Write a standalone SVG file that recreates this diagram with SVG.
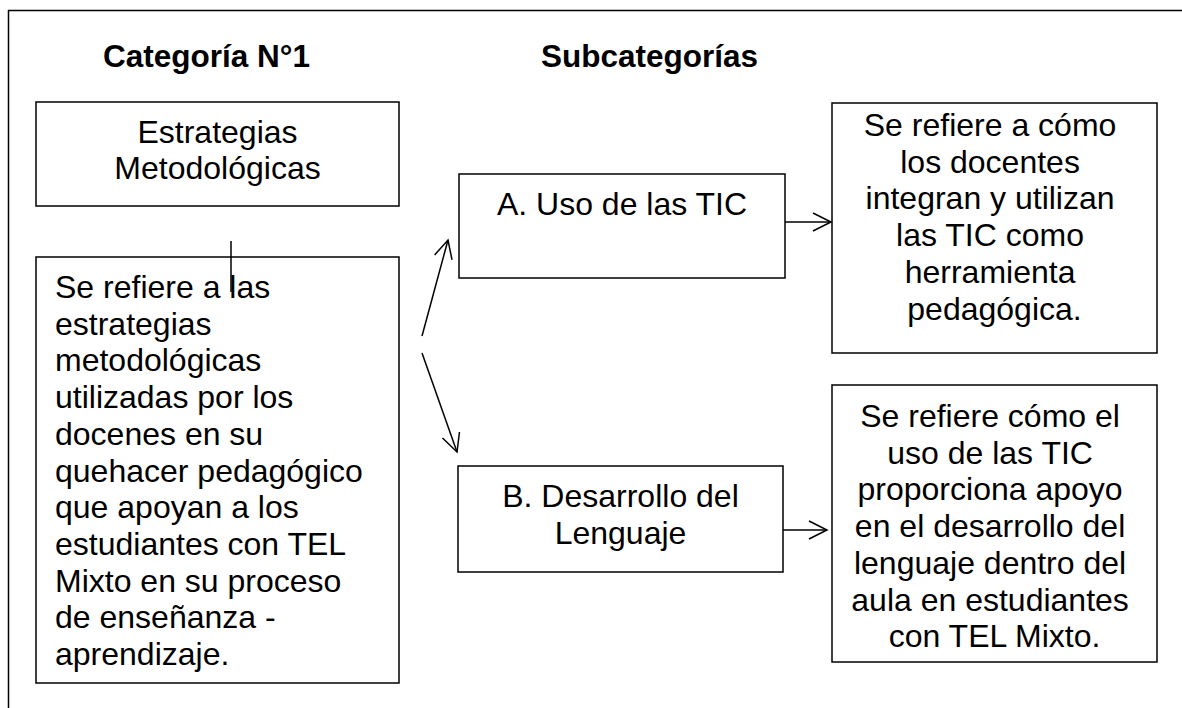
<svg xmlns="http://www.w3.org/2000/svg" width="1182" height="708" viewBox="0 0 1182 708">
<defs>
<style>
.box{fill:#fff;stroke:#000;stroke-width:1.5}
.t{font-family:"Liberation Sans",Arial,sans-serif;font-size:32px;fill:#000}
.c{text-anchor:middle}
.b{font-weight:bold;font-size:31.5px}
.ln{fill:none;stroke:#000;stroke-width:1.5}
</style>
<marker id="ah" markerUnits="userSpaceOnUse" markerWidth="22" markerHeight="22" refX="18" refY="9" orient="auto" viewBox="-2 -2 22 22">
<path d="M0,0 L18,9 L0,18" fill="none" stroke="#000" stroke-width="1.5"/>
</marker>
</defs>
<rect width="1182" height="708" fill="#fff"/>
<path class="ln" d="M8.5,708 V10.5 H1182"/>
<text class="t b" x="103" y="67">Categoría N°1</text>
<text class="t b" x="541" y="67">Subcategorías</text>
<g id="estrategias">
<rect class="box" x="36" y="102" width="363" height="104"/>
<text class="t c" x="217.5" y="143">Estrategias</text>
<text class="t c" x="217.5" y="179">Metodológicas</text>
</g>
<g id="descripcion">
<rect class="box" x="36" y="257" width="363" height="426"/>
<text class="t" x="55" y="298">
<tspan x="55" y="298">Se refiere a las</tspan>
<tspan x="55" y="334.7">estrategias</tspan>
<tspan x="55" y="371.4">metodológicas</tspan>
<tspan x="55" y="408.1">utilizadas por los</tspan>
<tspan x="55" y="444.8">docenes en su</tspan>
<tspan x="55" y="481.5">quehacer pedagógico</tspan>
<tspan x="55" y="518.2">que apoyan a los</tspan>
<tspan x="55" y="554.9">estudiantes con TEL</tspan>
<tspan x="55" y="591.6">Mixto en su proceso</tspan>
<tspan x="55" y="628.3">de enseñanza -</tspan>
<tspan x="55" y="665">aprendizaje.</tspan>
</text>
</g>
<g id="usoTIC">
<rect class="box" x="459" y="174" width="326" height="104"/>
<text class="t c" x="622" y="215">A. Uso de las TIC</text>
</g>
<g id="desarrollo">
<rect class="box" x="458" y="466" width="325" height="106"/>
<text class="t c" x="620.5" y="507">B. Desarrollo del</text>
<text class="t c" x="620.5" y="544">Lenguaje</text>
</g>
<g id="defTIC">
<rect class="box" x="832" y="103" width="325" height="250"/>
<text class="t c" x="994.5" y="136">
<tspan x="994.5" y="136">Se refiere a cómo</tspan>
<tspan x="994.5" y="172.7">los docentes</tspan>
<tspan x="994.5" y="209.4">integran y utilizan</tspan>
<tspan x="994.5" y="246.1">las TIC como</tspan>
<tspan x="994.5" y="282.8">herramienta</tspan>
<tspan x="994.5" y="319.5">pedagógica.</tspan>
</text>
</g>
<g id="defLenguaje">
<rect class="box" x="832" y="385" width="325" height="277"/>
<text class="t c" x="994.5" y="427">
<tspan x="994.5" y="427">Se refiere cómo el</tspan>
<tspan x="994.5" y="463.7">uso de las TIC</tspan>
<tspan x="994.5" y="500.4">proporciona apoyo</tspan>
<tspan x="994.5" y="537.1">en el desarrollo del</tspan>
<tspan x="994.5" y="573.8">lenguaje dentro del</tspan>
<tspan x="994.5" y="610.5">aula en estudiantes</tspan>
<tspan x="994.5" y="647.2">con TEL Mixto.</tspan>
</text>
</g>
<g id="connectors">
<line class="ln" x1="231" y1="241" x2="231" y2="292"/>
<line class="ln" x1="422" y1="336" x2="448" y2="240" marker-end="url(#ah)"/>
<line class="ln" x1="422" y1="353" x2="457" y2="452" marker-end="url(#ah)"/>
<line class="ln" x1="785" y1="222" x2="831" y2="222" marker-end="url(#ah)"/>
<line class="ln" x1="783" y1="530" x2="827" y2="530" marker-end="url(#ah)"/>
</g>
</svg>
